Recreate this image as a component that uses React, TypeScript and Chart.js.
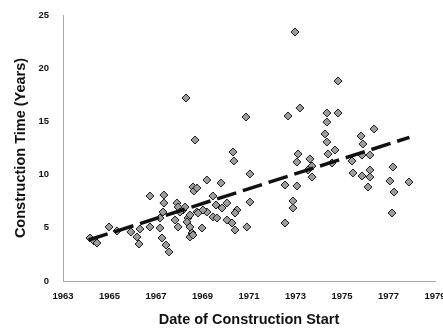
import React, { useEffect, useRef } from "react";
import { Chart, registerables } from "chart.js";

Chart.register(...registerables);

const startYears: number[] = [
  1964.16, 1964.33, 1964.46, 1964.98, 1965.32, 1965.92, 1966.31, 1966.18, 1966.27, 1966.74,
  1966.74, 1967.17, 1967.34, 1967.34, 1967.26, 1967.43, 1967.56, 1970.31, 1970.35, 1971.04,
  1969.19, 1969.8, 1968.59, 1968.63, 1969.45, 1969.58, 1970.05, 1971.04, 1967.9, 1967.95,
  1968.16, 1968.76, 1969.19, 1967.3, 1967.17, 1970.48, 1970.4, 1969.45, 1969.62, 1967.82,
  1968.38, 1968.33, 1970.05, 1968.46, 1968.98, 1967.95, 1970.27, 1970.4, 1970.91, 1968.55,
  1968.46, 1968.25, 1968.03, 1968.46, 1968.59, 1968.81, 1969.02, 1969.84, 1968.76,
  1970.87, 1972.68, 1973.19, 1974.35, 1974.83, 1974.35, 1974.27, 1974.35, 1973.11, 1973.06,
  1973.62, 1973.71, 1974.4, 1974.7, 1974.57, 1973.54, 1973.71, 1972.55, 1973.06, 1972.89,
  1972.89, 1972.55, 1972.98, 1974.83, 1968.29, 1968.68, 1976.38, 1975.82, 1975.9, 1975.43,
  1975.86, 1976.2, 1977.19, 1975.47, 1975.86, 1976.2, 1976.2, 1977.06, 1977.88, 1976.12,
  1977.24, 1977.15,
];

const constructionYears: number[] = [
  4.04, 3.76, 3.57, 5.08, 4.7, 4.61, 4.89, 4.14, 3.48, 7.99,
  5.08, 4.98, 8.08, 7.33, 4.04, 3.38, 2.73, 12.12, 11.28, 10.06,
  9.49, 9.21, 8.83, 8.46, 7.99, 7.14, 7.33, 7.42, 7.33, 6.95,
  6.67, 6.48, 6.48, 6.48, 5.92, 6.67, 6.39, 6.02, 5.92, 5.73,
  5.92, 5.55, 5.73, 5.08, 4.98, 5.08, 5.45, 4.79, 5.08, 4.51,
  4.14, 6.95, 6.48, 6.2, 4.32, 6.39, 6.67, 6.86, 8.74,
  15.41, 15.51, 16.26, 15.79, 15.79, 14.94, 13.82, 13.06, 11.94, 11.18,
  11.47, 10.81, 11.94, 12.31, 11.09, 10.43, 9.77, 9.02, 8.93, 7.52,
  6.86, 5.45, 23.4, 18.8, 17.2, 13.25, 14.29, 13.63, 12.88, 11.28,
  11.84, 11.84, 10.71, 10.15, 9.87, 10.43, 9.77, 9.4, 9.3, 8.83,
  8.36, 6.39,
];

const trendYears: number[] = [1964.1, 1977.9];
const trendValues: number[] = [3.85, 13.5];

const xTicks: number[] = [1963, 1965, 1967, 1969, 1971, 1973, 1975, 1977, 1979];
const yTicks: number[] = [0, 5, 10, 15, 20, 25];

export default function App() {
  const ref = useRef<HTMLCanvasElement | null>(null);

  useEffect(() => {
    document.body.style.margin = "0";
    const canvas = ref.current;
    if (!canvas) return;
    const tickFont = { family: "'Liberation Sans', Arial, sans-serif", size: 9.5, weight: "bold" as const };
    const titleFont = { family: "'Liberation Sans', Arial, sans-serif", size: 14.5, weight: "bold" as const };
    const chart = new Chart(canvas, {
      type: "scatter",
      data: {
        datasets: [
          {
            type: "line",
            label: "Trend",
            data: trendYears.map((x, i) => ({ x, y: trendValues[i] })),
            borderColor: "#111",
            borderWidth: 3.5,
            borderDash: [20, 7],
            pointRadius: 0,
            fill: false,
          } as any,
          {
            label: "Plants",
            data: startYears.map((x, i) => ({ x, y: constructionYears[i] })),
            pointStyle: "rectRot",
            pointRadius: 4,
            backgroundColor: "#9c9c9c",
            borderColor: "#1a1a1a",
            borderWidth: 1,
          },
        ],
      },
      options: {
        responsive: false,
        animation: false,
        layout: { padding: { left: 0, right: 8, top: 15, bottom: 0 } },
        plugins: { legend: { display: false }, tooltip: { enabled: false } },
        scales: {
          x: {
            type: "linear",
            min: 1963,
            max: 1979,
            afterBuildTicks: (s: any) => {
              s.ticks = xTicks.map((v) => ({ value: v }));
            },
            afterFit: (s: any) => {
              s.height = 50;
              s.paddingLeft = 0;
              s.paddingRight = 0;
            },
            grid: { display: false, drawTicks: false },
            border: { display: true, color: "#a8a8a8", width: 1, dash: [1, 2] },
            ticks: {
              autoSkip: false,
              maxRotation: 0,
              padding: 10,
              color: "#111",
              font: tickFont,
              callback: (v: any) => String(v),
            },
            title: {
              display: true,
              text: "Date of Construction Start",
              color: "#111",
              font: titleFont,
              padding: { top: 0, bottom: 2 },
            },
          },
          y: {
            type: "linear",
            min: 0,
            max: 25,
            afterBuildTicks: (s: any) => {
              s.ticks = yTicks.map((v) => ({ value: v }));
            },
            afterFit: (s: any) => {
              s.width = 63;
              s.paddingTop = 0;
              s.paddingBottom = 0;
            },
            grid: { display: false, drawTicks: false },
            border: { display: true, color: "#a8a8a8", width: 1, dash: [1, 2] },
            ticks: {
              padding: 14,
              color: "#111",
              font: tickFont,
              callback: (v: any) => String(v),
            },
            title: {
              display: true,
              text: "Construction Time (Years)",
              color: "#111",
              font: titleFont,
              padding: { top: 12, bottom: 0 },
            },
          },
        },
      },
    });
    return () => chart.destroy();
  }, []);

  return (
    <div style={{ width: 443, height: 331, background: "#fff" }}>
      <canvas ref={ref} width={443} height={331} style={{ display: "block" }} />
    </div>
  );
}
